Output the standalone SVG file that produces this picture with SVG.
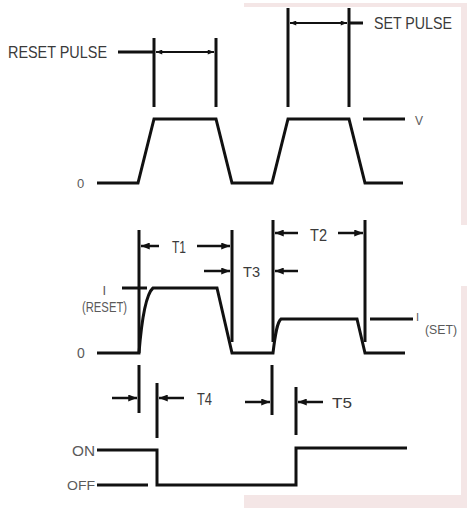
<svg xmlns="http://www.w3.org/2000/svg" width="467" height="508" viewBox="0 0 467 508">
<defs>
<style>
.w{fill:none;stroke:#111;stroke-width:3;stroke-linejoin:miter}
.v{stroke:#111;stroke-width:3}
.d{stroke:#111;stroke-width:2.5}
.dt{stroke:#111;stroke-width:2}
.t{font-family:"Liberation Sans",Arial,sans-serif;fill:#3a3a3a}
.g{font-family:"Liberation Sans",Arial,sans-serif;fill:#5a5a5a}
.bg{fill:#f4e6e6}
</style>
<marker id="a" viewBox="0 0 10 8" refX="10" refY="4" markerWidth="9" markerHeight="7" markerUnits="userSpaceOnUse" orient="auto">
<path d="M0,0 L10,4 L0,8 Z" fill="#111"/>
</marker>
<marker id="s" viewBox="0 0 10 8" refX="10" refY="4" markerWidth="7" markerHeight="5" markerUnits="userSpaceOnUse" orient="auto-start-reverse">
<path d="M0,0 L10,4 L0,8 Z" fill="#111"/>
</marker>
</defs>
<g id="background">
<rect class="bg" x="244" y="3" width="223" height="4"/>
<rect class="bg" x="461" y="3" width="6" height="222"/>
<rect class="bg" x="461" y="286" width="6" height="222"/>
<rect class="bg" x="244" y="495" width="223" height="13"/>
</g>
<g id="connectors">
<polyline class="w" points="97,183 138,183 154,119 216,119 232,183 272,183 288,119 349,119 365,183 403,183"/>
<line class="v" x1="154" y1="38" x2="154" y2="107"/>
<line class="v" x1="216" y1="38" x2="216" y2="107"/>
<line class="v" x1="288" y1="8" x2="288" y2="107"/>
<line class="v" x1="349" y1="8" x2="349" y2="107"/>
<line class="v" x1="118" y1="52" x2="154" y2="52"/>
<line class="dt" x1="156" y1="52" x2="214" y2="52" marker-start="url(#s)" marker-end="url(#s)"/>
<line class="dt" x1="290" y1="23" x2="347" y2="23" marker-start="url(#s)" marker-end="url(#s)"/>
<line class="v" x1="349" y1="23" x2="363" y2="23"/>
<line class="v" x1="363" y1="119" x2="405" y2="119"/>
<path class="w" d="M97,353 L139,353 C141,328 145,295 153,288 L217,288 L232,353 L273,353 C275,336 277,322 281,319 L357,319 L365,353 L405,353"/>
<line class="v" x1="139" y1="230" x2="139" y2="353"/>
<line class="v" x1="232" y1="230" x2="232" y2="342"/>
<line class="v" x1="273" y1="220" x2="273" y2="342"/>
<line class="v" x1="365" y1="220" x2="365" y2="342"/>
<line class="d" x1="159" y1="246" x2="141" y2="246" marker-end="url(#a)"/>
<line class="d" x1="197" y1="246" x2="230" y2="246" marker-end="url(#a)"/>
<line class="d" x1="204" y1="271" x2="230" y2="271" marker-end="url(#a)"/>
<line class="d" x1="298" y1="271" x2="275" y2="271" marker-end="url(#a)"/>
<line class="d" x1="298" y1="233" x2="275" y2="233" marker-end="url(#a)"/>
<line class="d" x1="338" y1="233" x2="363" y2="233" marker-end="url(#a)"/>
<line class="v" x1="122" y1="288" x2="147" y2="288"/>
<line class="v" x1="370" y1="319" x2="413" y2="319"/>
<line class="v" x1="139" y1="365" x2="139" y2="413"/>
<line class="v" x1="157" y1="383" x2="157" y2="438"/>
<line class="d" x1="112" y1="398" x2="137" y2="398" marker-end="url(#a)"/>
<line class="d" x1="184" y1="398" x2="159" y2="398" marker-end="url(#a)"/>
<line class="v" x1="272" y1="365" x2="272" y2="415"/>
<line class="v" x1="296" y1="387" x2="296" y2="435"/>
<line class="d" x1="245" y1="402" x2="270" y2="402" marker-end="url(#a)"/>
<line class="d" x1="323" y1="402" x2="298" y2="402" marker-end="url(#a)"/>
<polyline class="w" points="97,450 157,450 157,485 296,485 296,448 407,448"/>
<line class="v" x1="97" y1="485" x2="148" y2="485"/>
</g>
<g id="labels">
<text class="t" x="8" y="58" font-size="17" textLength="99" lengthAdjust="spacingAndGlyphs">RESET PULSE</text>
<text class="t" x="374" y="29" font-size="16.5" textLength="78" lengthAdjust="spacingAndGlyphs">SET PULSE</text>
<text class="g" x="415" y="125" font-size="12">V</text>
<text class="g" x="77" y="188" font-size="13">0</text>
<text class="t" x="172" y="253" font-size="16" textLength="14" lengthAdjust="spacingAndGlyphs">T1</text>
<text class="t" x="310" y="241" font-size="16" textLength="17" lengthAdjust="spacingAndGlyphs">T2</text>
<text class="t" x="243" y="277" font-size="15" textLength="17" lengthAdjust="spacingAndGlyphs">T3</text>
<text class="g" x="102.5" y="295" font-size="13">I</text>
<text class="g" x="82" y="312" font-size="14" textLength="45" lengthAdjust="spacingAndGlyphs">(RESET)</text>
<text class="g" x="416" y="321" font-size="11">I</text>
<text class="g" x="425" y="334" font-size="13" textLength="32" lengthAdjust="spacingAndGlyphs">(SET)</text>
<text class="g" x="77" y="358" font-size="14">0</text>
<text class="t" x="197" y="405" font-size="16" textLength="15" lengthAdjust="spacingAndGlyphs">T4</text>
<text class="t" x="332" y="408" font-size="15" textLength="20" lengthAdjust="spacingAndGlyphs">T5</text>
<text class="g" x="72" y="456" font-size="14" textLength="23" lengthAdjust="spacingAndGlyphs">ON</text>
<text class="g" x="67" y="490" font-size="12.5" textLength="28" lengthAdjust="spacingAndGlyphs">OFF</text>
</g>
</svg>
